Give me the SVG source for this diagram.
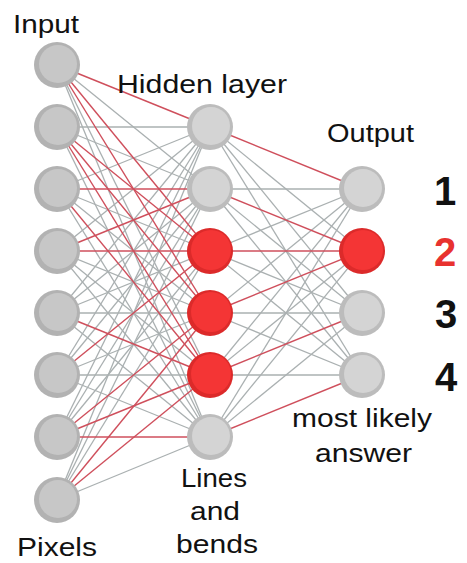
<svg xmlns="http://www.w3.org/2000/svg" width="467" height="563" viewBox="0 0 467 563">
<style>
.g{stroke:#aab0b1;stroke-width:1.3;fill:none}
.r{stroke:#cf4f5c;stroke-width:1.4;fill:none}
.lbl{font-family:"Liberation Sans",Arial,sans-serif;font-size:26px;fill:#111}
.num{font-family:"Liberation Sans",Arial,sans-serif;font-size:40px;font-weight:bold;fill:#111;text-anchor:middle}
.ringA{fill:#b2b2b2}.coreA{fill:#c7c7c7}
.ringB{fill:#bcbcbc}.coreB{fill:#d4d4d4}
.ringR{fill:#dc2a2a}.coreR{fill:#f43535}
</style>
<rect width="467" height="563" fill="#ffffff"/>
<g id="connectors">
<g id="gray-ih">
<line class="g" x1="57" y1="65" x2="210" y2="189"/><line class="g" x1="57" y1="65" x2="210" y2="375"/><line class="g" x1="57" y1="65" x2="210" y2="437"/>
<line class="g" x1="57" y1="127" x2="210" y2="127"/><line class="g" x1="57" y1="127" x2="210" y2="189"/><line class="g" x1="57" y1="127" x2="210" y2="437"/>
<line class="g" x1="57" y1="189" x2="210" y2="127"/><line class="g" x1="57" y1="189" x2="210" y2="251"/><line class="g" x1="57" y1="189" x2="210" y2="313"/><line class="g" x1="57" y1="189" x2="210" y2="437"/>
<line class="g" x1="57" y1="251" x2="210" y2="127"/><line class="g" x1="57" y1="251" x2="210" y2="313"/><line class="g" x1="57" y1="251" x2="210" y2="375"/><line class="g" x1="57" y1="251" x2="210" y2="437"/>
<line class="g" x1="57" y1="313" x2="210" y2="127"/><line class="g" x1="57" y1="313" x2="210" y2="189"/><line class="g" x1="57" y1="313" x2="210" y2="251"/><line class="g" x1="57" y1="313" x2="210" y2="313"/><line class="g" x1="57" y1="313" x2="210" y2="437"/>
<line class="g" x1="57" y1="375" x2="210" y2="127"/><line class="g" x1="57" y1="375" x2="210" y2="189"/><line class="g" x1="57" y1="375" x2="210" y2="313"/><line class="g" x1="57" y1="375" x2="210" y2="375"/><line class="g" x1="57" y1="375" x2="210" y2="437"/>
<line class="g" x1="57" y1="437" x2="210" y2="127"/><line class="g" x1="57" y1="437" x2="210" y2="189"/><line class="g" x1="57" y1="437" x2="210" y2="251"/>
<line class="g" x1="57" y1="500" x2="210" y2="127"/><line class="g" x1="57" y1="500" x2="210" y2="189"/><line class="g" x1="57" y1="500" x2="210" y2="251"/><line class="g" x1="57" y1="500" x2="210" y2="437"/>
</g>
<g id="gray-ho">
<line class="g" x1="210" y1="127" x2="362" y2="251"/><line class="g" x1="210" y1="127" x2="362" y2="313"/><line class="g" x1="210" y1="127" x2="362" y2="375"/>
<line class="g" x1="210" y1="189" x2="362" y2="189"/><line class="g" x1="210" y1="189" x2="362" y2="313"/><line class="g" x1="210" y1="189" x2="362" y2="375"/>
<line class="g" x1="210" y1="251" x2="362" y2="189"/><line class="g" x1="210" y1="251" x2="362" y2="313"/><line class="g" x1="210" y1="251" x2="362" y2="375"/>
<line class="g" x1="210" y1="313" x2="362" y2="189"/><line class="g" x1="210" y1="313" x2="362" y2="313"/><line class="g" x1="210" y1="313" x2="362" y2="375"/>
<line class="g" x1="210" y1="375" x2="362" y2="189"/><line class="g" x1="210" y1="375" x2="362" y2="251"/><line class="g" x1="210" y1="375" x2="362" y2="375"/>
<line class="g" x1="210" y1="437" x2="362" y2="189"/><line class="g" x1="210" y1="437" x2="362" y2="251"/><line class="g" x1="210" y1="437" x2="362" y2="313"/>
</g>
<g id="red-ih">
<line class="r" x1="57" y1="65" x2="210" y2="127"/><line class="r" x1="57" y1="65" x2="210" y2="251"/><line class="r" x1="57" y1="65" x2="210" y2="313"/>
<line class="r" x1="57" y1="127" x2="210" y2="251"/><line class="r" x1="57" y1="127" x2="210" y2="313"/><line class="r" x1="57" y1="127" x2="210" y2="375"/>
<line class="r" x1="57" y1="189" x2="210" y2="189"/><line class="r" x1="57" y1="189" x2="210" y2="375"/>
<line class="r" x1="57" y1="251" x2="210" y2="189"/><line class="r" x1="57" y1="251" x2="210" y2="251"/>
<line class="r" x1="57" y1="313" x2="210" y2="375"/>
<line class="r" x1="57" y1="375" x2="210" y2="251"/>
<line class="r" x1="57" y1="437" x2="210" y2="313"/><line class="r" x1="57" y1="437" x2="210" y2="375"/><line class="r" x1="57" y1="437" x2="210" y2="437"/>
<line class="r" x1="57" y1="500" x2="210" y2="313"/><line class="r" x1="57" y1="500" x2="210" y2="375"/>
</g>
<g id="red-ho">
<line class="r" x1="210" y1="127" x2="362" y2="189"/>
<line class="r" x1="210" y1="189" x2="362" y2="251"/>
<line class="r" x1="210" y1="251" x2="362" y2="251"/>
<line class="r" x1="210" y1="313" x2="362" y2="251"/>
<line class="r" x1="210" y1="375" x2="362" y2="313"/>
<line class="r" x1="210" y1="437" x2="362" y2="375"/>
</g>
</g>
<g id="input-layer">
<g id="in1"><circle class="ringA" cx="57" cy="65" r="23"/><circle class="coreA" cx="58" cy="64" r="19"/></g>
<g id="in2"><circle class="ringA" cx="57" cy="127" r="23"/><circle class="coreA" cx="58" cy="126" r="19"/></g>
<g id="in3"><circle class="ringA" cx="57" cy="189" r="23"/><circle class="coreA" cx="58" cy="188" r="19"/></g>
<g id="in4"><circle class="ringA" cx="57" cy="251" r="23"/><circle class="coreA" cx="58" cy="250" r="19"/></g>
<g id="in5"><circle class="ringA" cx="57" cy="313" r="23"/><circle class="coreA" cx="58" cy="312" r="19"/></g>
<g id="in6"><circle class="ringA" cx="57" cy="375" r="23"/><circle class="coreA" cx="58" cy="374" r="19"/></g>
<g id="in7"><circle class="ringA" cx="57" cy="437" r="23"/><circle class="coreA" cx="58" cy="436" r="19"/></g>
<g id="in8"><circle class="ringA" cx="57" cy="500" r="23"/><circle class="coreA" cx="58" cy="499" r="19"/></g>
</g>
<g id="hidden-layer">
<g id="h1"><circle class="ringB" cx="210" cy="127" r="23"/><circle class="coreB" cx="211" cy="126" r="19"/></g>
<g id="h2"><circle class="ringB" cx="210" cy="189" r="23"/><circle class="coreB" cx="211" cy="188" r="19"/></g>
<g id="h3"><circle class="ringR" cx="210" cy="251" r="23"/><circle class="coreR" cx="211" cy="250" r="20"/></g>
<g id="h4"><circle class="ringR" cx="210" cy="313" r="23"/><circle class="coreR" cx="211" cy="312" r="20"/></g>
<g id="h5"><circle class="ringR" cx="210" cy="375" r="23"/><circle class="coreR" cx="211" cy="374" r="20"/></g>
<g id="h6"><circle class="ringB" cx="210" cy="437" r="23"/><circle class="coreB" cx="211" cy="436" r="19"/></g>
</g>
<g id="output-layer">
<g id="o1"><circle class="ringB" cx="362" cy="189" r="23"/><circle class="coreB" cx="363" cy="188" r="19"/></g>
<g id="o2"><circle class="ringR" cx="362" cy="251" r="23"/><circle class="coreR" cx="363" cy="250" r="20"/></g>
<g id="o3"><circle class="ringB" cx="362" cy="313" r="23"/><circle class="coreB" cx="363" cy="312" r="19"/></g>
<g id="o4"><circle class="ringB" cx="362" cy="375" r="23"/><circle class="coreB" cx="363" cy="374" r="19"/></g>
</g>
<g id="labels">
<text class="lbl" x="13" y="33" textLength="66" lengthAdjust="spacingAndGlyphs">Input</text>
<text class="lbl" x="117" y="93" textLength="170" lengthAdjust="spacingAndGlyphs">Hidden layer</text>
<text class="lbl" x="327" y="142" textLength="87" lengthAdjust="spacingAndGlyphs">Output</text>
<text class="num" x="445" y="205">1</text>
<text class="num" x="445" y="266" style="fill:#e8322f">2</text>
<text class="num" x="446" y="328">3</text>
<text class="num" x="446" y="391">4</text>
<text class="lbl" x="292" y="427" textLength="140" lengthAdjust="spacingAndGlyphs">most likely</text>
<text class="lbl" x="315" y="462" textLength="97" lengthAdjust="spacingAndGlyphs">answer</text>
<text class="lbl" x="181" y="487" textLength="66" lengthAdjust="spacingAndGlyphs">Lines</text>
<text class="lbl" x="190" y="520" textLength="50" lengthAdjust="spacingAndGlyphs">and</text>
<text class="lbl" x="176" y="553" textLength="82" lengthAdjust="spacingAndGlyphs">bends</text>
<text class="lbl" x="17" y="556" textLength="80" lengthAdjust="spacingAndGlyphs">Pixels</text>
</g>
</svg>
